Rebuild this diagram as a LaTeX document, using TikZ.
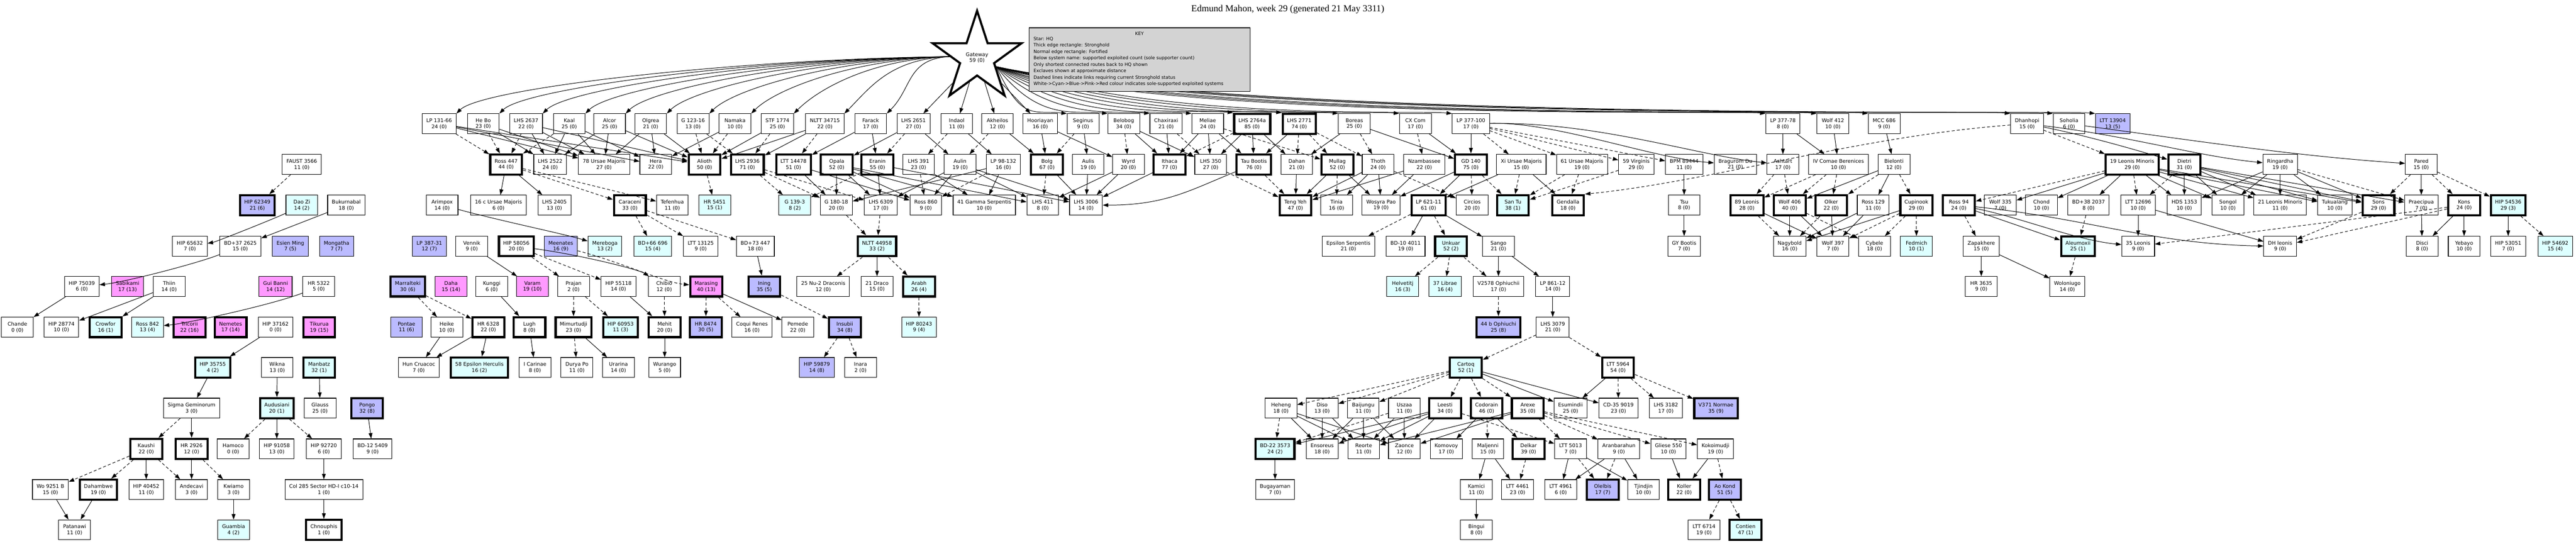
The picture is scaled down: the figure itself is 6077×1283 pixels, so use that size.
\documentclass[tikz,border=0pt]{standalone}
\usepackage{fontspec}
\setmainfont{DejaVu Sans}
\newfontfamily\titlefont{Liberation Serif}
\usetikzlibrary{shapes.geometric,arrows.meta}
\definecolor{cy}{HTML}{DDFFFF}
\definecolor{bl}{HTML}{BBBBFF}
\definecolor{pk}{HTML}{FF99FF}
\definecolor{keygray}{HTML}{D3D3D3}
\tikzset{
 sys/.style={draw, rectangle, fill=white, line width=1.3pt, minimum width=75pt, minimum height=47pt, inner xsep=10pt, align=center, font=\fontsize{12}{14}\selectfont},
 thk/.style={line width=5pt},
 fc/.style={fill=cy}, fb/.style={fill=bl}, fp/.style={fill=pk},
 e/.style={-{Triangle[length=13pt,width=9pt]}, line width=1.2pt},
 d/.style={e, dash pattern=on 7pt off 5pt},
}
\newcommand{\sy}[5][]{\node[sys,#1] (#2) at (#3,#4) {#5};}
\begin{document}
\begin{tikzpicture}[x=1pt,y=-1pt]
\useasboundingbox (0,0) rectangle (6077,1283);
\node[font=\titlefont\fontsize{22}{24}\selectfont] (title) at (3038,22) {Edmund Mahon, week 29 (generated 21 May 3311)};
\node[draw, star, star points=5, star point ratio=2.618, minimum size=210pt, line width=5pt, fill=white, align=center, font=\fontsize{12}{14}\selectfont] (gw) at (2305,136) {Gateway\\59 (0)};
% row 0
\def\r{292}
\sy{lp13166}{1036}{\r}{LP 131-66\\24 (0)}
\sy{hebo}{1140}{\r}{He Bo\\23 (0)}
\sy{lhs2637}{1241}{\r}{LHS 2637\\22 (0)}
\sy{kaal}{1343}{\r}{Kaal\\25 (0)}
\sy{alcor}{1438}{\r}{Alcor\\25 (0)}
\sy{olgrea}{1535}{\r}{Olgrea\\21 (0)}
\sy{g12316}{1635}{\r}{G 123-16\\13 (0)}
\sy{namaka}{1734}{\r}{Namaka\\10 (0)}
\sy{stf1774}{1834}{\r}{STF 1774\\25 (0)}
\sy{nltt34715}{1946}{\r}{NLTT 34715\\22 (0)}
\sy{farack}{2054}{\r}{Farack\\17 (0)}
\sy{lhs2651}{2155}{\r}{LHS 2651\\27 (0)}
\sy{indaol}{2257}{\r}{Indaol\\11 (0)}
\sy{akheilos}{2353}{\r}{Akheilos\\12 (0)}
\sy{hooriayan}{2454}{\r}{Hooriayan\\16 (0)}
\sy{seginus}{2555}{\r}{Seginus\\9 (0)}
\sy{belobog}{2651}{\r}{Belobog\\34 (0)}
\sy{chaxiraxi}{2751}{\r}{Chaxiraxi\\21 (0)}
\sy{meliae}{2849}{\r}{Meliae\\24 (0)}
\sy[thk]{lhs2764a}{2954}{\r}{LHS 2764a\\85 (0)}
\sy[thk]{lhs2771}{3065}{\r}{LHS 2771\\74 (0)}
\sy{boreas}{3195}{\r}{Boreas\\25 (0)}
\sy{cxcom}{3339}{\r}{CX Com\\17 (0)}
\sy{lp377100}{3470}{\r}{LP 377-100\\17 (0)}
\sy{lp37778}{4206}{\r}{LP 377-78\\8 (0)}
\sy{wolf412}{4324}{\r}{Wolf 412\\10 (0)}
\sy{mcc686}{4445}{\r}{MCC 686\\9 (0)}
\sy{dhanhopi}{4782}{\r}{Dhanhopi\\15 (0)}
\sy{soholia}{4881}{\r}{Soholia\\6 (0)}
\sy[fb]{ltt13904}{4984}{\r}{LTT 13904\\13 (5)}
% row 1
\def\r{388}
\sy{faust}{712}{\r}{FAUST 3566\\11 (0)}
\sy[thk]{ross447}{1194}{\r}{Ross 447\\44 (0)}
\sy{lhs2522}{1298}{\r}{LHS 2522\\24 (0)}
\sy{uma78}{1425}{\r}{78 Ursae Majoris\\27 (0)}
\sy{hera}{1547}{\r}{Hera\\22 (0)}
\sy[thk]{alioth}{1662}{\r}{Alioth\\50 (0)}
\sy[thk]{lhs2936}{1763}{\r}{LHS 2936\\71 (0)}
\sy[thk]{ltt14478}{1872}{\r}{LTT 14478\\51 (0)}
\sy[thk]{opala}{1974}{\r}{Opala\\52 (0)}
\sy[thk]{eranin}{2070}{\r}{Eranin\\55 (0)}
\sy{lhs391}{2167}{\r}{LHS 391\\23 (0)}
\sy{aulin}{2265}{\r}{Aulin\\19 (0)}
\sy{lp98}{2367}{\r}{LP 98-132\\16 (0)}
\sy[thk]{bolg}{2470}{\r}{Bolg\\67 (0)}
\sy{aulis}{2567}{\r}{Aulis\\19 (0)}
\sy{wyrd}{2662}{\r}{Wyrd\\20 (0)}
\sy[thk]{ithaca}{2759}{\r}{Ithaca\\77 (0)}
\sy{lhs350}{2856}{\r}{LHS 350\\27 (0)}
\sy[thk]{taubootis}{2958}{\r}{Tau Bootis\\76 (0)}
\sy{dahan}{3059}{\r}{Dahan\\21 (0)}
\sy[thk]{mullag}{3155}{\r}{Mullag\\52 (0)}
\sy{thoth}{3251}{\r}{Thoth\\24 (0)}
\sy{nzamb}{3360}{\r}{Nzambassee\\22 (0)}
\sy[thk]{gd140}{3470}{\r}{GD 140\\75 (0)}
\sy{xiuma}{3589}{\r}{Xi Ursae Majoris\\15 (0)}
\sy{uma61}{3732}{\r}{61 Ursae Majoris\\19 (0)}
\sy{vir59}{3860}{\r}{59 Virginis\\29 (0)}
\sy{bpm}{3973}{\r}{BPM 89444\\11 (0)}
\sy{bragurom}{4094}{\r}{Bragurom Du\\21 (0)}
\sy{ashtart}{4206}{\r}{Ashtart\\17 (0)}
\sy{ivcom}{4337}{\r}{IV Comae Berenices\\10 (0)}
\sy{bielonti}{4468}{\r}{Bielonti\\12 (0)}
\sy[thk]{lmi19}{5030}{\r}{19 Leonis Minoris\\29 (0)}
\sy[thk]{dietri}{5153}{\r}{Dietri\\31 (0)}
\sy{ringardha}{5379}{\r}{Ringardha\\19 (0)}
\sy{pared}{5712}{\r}{Pared\\15 (0)}
% row 2
\def\r{484}
\sy[fb,thk]{hip62349}{607}{\r}{HIP 62349\\21 (6)}
\sy[fc]{daozi}{712}{\r}{Dao Zi\\14 (2)}
\sy{bukur}{817}{\r}{Bukurnabal\\18 (0)}
\sy{arimpox}{1043}{\r}{Arimpox\\14 (0)}
\sy{uma16c}{1176}{\r}{16 c Ursae Majoris\\6 (0)}
\sy{lhs2405}{1308}{\r}{LHS 2405\\13 (0)}
\sy[thk]{caraceni}{1486}{\r}{Caraceni\\33 (0)}
\sy{tefenhua}{1586}{\r}{Tefenhua\\11 (0)}
\sy[fc]{hr5451}{1686}{\r}{HR 5451\\15 (1)}
\sy[fc]{g1393}{1875}{\r}{G 139-3\\8 (2)}
\sy{g18018}{1973}{\r}{G 180-18\\20 (0)}
\sy{lhs6309}{2078}{\r}{LHS 6309\\17 (0)}
\sy{ross860}{2184}{\r}{Ross 860\\9 (0)}
\sy{gam41}{2322}{\r}{41 Gamma Serpentis\\10 (0)}
\sy{lhs411}{2460}{\r}{LHS 411\\8 (0)}
\sy{lhs3006}{2562}{\r}{LHS 3006\\14 (0)}
\sy[thk]{tengyeh}{3056}{\r}{Teng Yeh\\47 (0)}
\sy{tinia}{3153}{\r}{Tinia\\16 (0)}
\sy{wosyra}{3258}{\r}{Wosyra Pao\\19 (0)}
\sy[thk]{lp62111}{3370}{\r}{LP 621-11\\61 (0)}
\sy{circios}{3473}{\r}{Circios\\20 (0)}
\sy[fc,thk]{santu}{3569}{\r}{San Tu\\38 (1)}
\sy[thk]{gendalla}{3699}{\r}{Gendalla\\18 (0)}
\sy{tsu}{3973}{\r}{Tsu\\8 (0)}
\sy[thk]{leo89}{4121}{\r}{89 Leonis\\28 (0)}
\sy[thk]{wolf406}{4222}{\r}{Wolf 406\\40 (0)}
\sy[thk]{olker}{4320}{\r}{Olker\\22 (0)}
\sy{ross129}{4419}{\r}{Ross 129\\11 (0)}
\sy[thk]{cupinook}{4521}{\r}{Cupinook\\29 (0)}
\sy[thk]{ross94}{4621}{\r}{Ross 94\\24 (0)}
\sy{wolf335}{4719}{\r}{Wolf 335\\7 (0)}
\sy{chond}{4816}{\r}{Chond\\10 (0)}
\sy{bd382037}{4927}{\r}{BD+38 2037\\8 (0)}
\sy{ltt12696}{5044}{\r}{LTT 12696\\10 (0)}
\sy{hds1353}{5153}{\r}{HDS 1353\\10 (0)}
\sy{songol}{5256}{\r}{Songol\\10 (0)}
\sy{lmi21}{5379}{\r}{21 Leonis Minoris\\11 (0)}
\sy{tukualang}{5508}{\r}{Tukualang\\10 (0)}
\sy[thk]{sons}{5611}{\r}{Sons\\29 (0)}
\sy{praecipua}{5712}{\r}{Praecipua\\7 (0)}
\sy[thk]{kons}{5813}{\r}{Kons\\24 (0)}
\sy[fc,thk]{hip54536}{5917}{\r}{HIP 54536\\29 (3)}
% row 3
\def\r{581}
\sy{hip65632}{448}{\r}{HIP 65632\\7 (0)}
\sy{bd37}{567}{\r}{BD+37 2625\\15 (0)}
\sy[fb]{esien}{685}{\r}{Esien Ming\\7 (5)}
\sy[fb]{mongatha}{794}{\r}{Mongatha\\7 (7)}
\sy[fb]{lp387}{1013}{\r}{LP 387-31\\12 (7)}
\sy{vennik}{1113}{\r}{Vennik\\9 (0)}
\sy[thk]{hip58056}{1218}{\r}{HIP 58056\\20 (0)}
\sy[fb]{meenates}{1323}{\r}{Meenates\\16 (9)}
\sy[fc]{mereboga}{1427}{\r}{Mereboga\\13 (2)}
\sy[fc]{bd66}{1540}{\r}{BD+66 696\\15 (4)}
\sy{ltt13125}{1653}{\r}{LTT 13125\\9 (0)}
\sy{bd73}{1782}{\r}{BD+73 447\\18 (0)}
\sy[fc,thk]{nltt44958}{2069}{\r}{NLTT 44958\\33 (2)}
\sy{epsser}{3181}{\r}{Epsilon Serpentis\\21 (0)}
\sy{bd10}{3316}{\r}{BD-10 4011\\19 (0)}
\sy[fc,thk]{unkuar}{3423}{\r}{Unkuar\\52 (2)}
\sy{sango}{3535}{\r}{Sango\\21 (0)}
\sy{gybootis}{3973}{\r}{GY Bootis\\7 (0)}
\sy{nagybold}{4222}{\r}{Nagybold\\16 (0)}
\sy{wolf397}{4324}{\r}{Wolf 397\\7 (0)}
\sy{cybele}{4422}{\r}{Cybele\\18 (0)}
\sy[fc]{fedmich}{4521}{\r}{Fedmich\\10 (1)}
\sy{zapakhere}{4674}{\r}{Zapakhere\\15 (0)}
\sy[fc,thk]{aleumoxii}{4902}{\r}{Aleumoxii\\25 (1)}
\sy{leo35}{5044}{\r}{35 Leonis\\9 (0)}
\sy{dhleo}{5379}{\r}{DH leonis\\9 (0)}
\sy{disci}{5714}{\r}{Disci\\8 (0)}
\sy{yebayo}{5813}{\r}{Yebayo\\10 (0)}
\sy{hip53051}{5917}{\r}{HIP 53051\\7 (0)}
\sy[fc]{hip54692}{6028}{\r}{HIP 54692\\15 (4)}
% row 4
\def\r{676}
\sy{hip75039}{193}{\r}{HIP 75039\\6 (0)}
\sy[fp]{sabikami}{301}{\r}{Sabikami\\17 (13)}
\sy{thiin}{399}{\r}{Thiin\\14 (0)}
\sy[fp]{guibanni}{650}{\r}{Gui Banni\\14 (12)}
\sy{hr5322}{752}{\r}{HR 5322\\5 (0)}
\sy[fb,thk]{marralteki}{962}{\r}{Marralteki\\30 (6)}
\sy[fp]{daha}{1064}{\r}{Daha\\15 (14)}
\sy{kunggi}{1160}{\r}{Kunggi\\6 (0)}
\sy[fp]{varam}{1256}{\r}{Varam\\19 (10)}
\sy{prajan}{1353}{\r}{Prajan\\2 (0)}
\sy{hip55118}{1459}{\r}{HIP 55118\\14 (0)}
\sy{chibio}{1567}{\r}{Chibio\\12 (0)}
\sy[fp,thk]{marasing}{1666}{\r}{Marasing\\40 (13)}
\sy[fb,thk]{ining}{1803}{\r}{Ining\\35 (5)}
\sy{nu2dra}{1942}{\r}{25 Nu-2 Draconis\\12 (0)}
\sy{draco21}{2069}{\r}{21 Draco\\15 (0)}
\sy[fc,thk]{arabh}{2168}{\r}{Arabh\\26 (4)}
\sy[fc]{helvetitj}{3309}{\r}{Helvetitj\\16 (3)}
\sy[fc]{librae37}{3409}{\r}{37 Librae\\16 (4)}
\sy{v2578}{3535}{\r}{V2578 Ophiuchii\\17 (0)}
\sy{lp86112}{3663}{\r}{LP 861-12\\14 (0)}
\sy{hr3635}{4674}{\r}{HR 3635\\9 (0)}
\sy{woloniugo}{4877}{\r}{Woloniugo\\14 (0)}
% row 5
\def\r{772}
\sy{chande}{41}{\r}{Chande\\0 (0)}
\sy{hip28774}{145}{\r}{HIP 28774\\10 (0)}
\sy[fc,thk]{crowfor}{249}{\r}{Crowfor\\16 (1)}
\sy[fc]{ross842}{348}{\r}{Ross 842\\13 (4)}
\sy[fp,thk]{tricorii}{447}{\r}{Tricorii\\22 (16)}
\sy[fp,thk]{nemetes}{544}{\r}{Nemetes\\17 (14)}
\sy{hip37162}{650}{\r}{HIP 37162\\0 (0)}
\sy[fp,thk]{tikurua}{753}{\r}{Tikurua\\19 (15)}
\sy[fb]{pontae}{959}{\r}{Pontae\\11 (6)}
\sy{heike}{1054}{\r}{Heike\\10 (0)}
\sy[thk]{hr6328}{1152}{\r}{HR 6328\\22 (0)}
\sy[thk]{lugh}{1249}{\r}{Lugh\\8 (0)}
\sy[thk]{mimurtudji}{1353}{\r}{Mimurtudji\\23 (0)}
\sy[fc,thk]{hip60953}{1464}{\r}{HIP 60953\\11 (3)}
\sy[thk]{mehit}{1568}{\r}{Mehit\\20 (0)}
\sy[fb,thk]{hr8474}{1665}{\r}{HR 8474\\30 (5)}
\sy{coqui}{1774}{\r}{Coqui Renes\\16 (0)}
\sy{pemede}{1882}{\r}{Pemede\\22 (0)}
\sy[fb,thk]{insubii}{1993}{\r}{Insubii\\34 (8)}
\sy[fc]{hip80243}{2168}{\r}{HIP 80243\\9 (4)}
\sy[fb,thk]{ophb44}{3535}{\r}{44 b Ophiuchi\\25 (8)}
\sy{lhs3079}{3663}{\r}{LHS 3079\\21 (0)}
% row 6
\def\r{867}
\sy[fc,thk]{hip35755}{502}{\r}{HIP 35755\\4 (2)}
\sy{wikna}{654}{\r}{Wikna\\13 (0)}
\sy[fc,thk]{manbatz}{753}{\r}{Manbatz\\32 (1)}
\sy{huncru}{988}{\r}{Hun Cruacoc\\7 (0)}
\sy[fc,thk]{eps58her}{1131}{\r}{58 Epsilon Herculis\\16 (2)}
\sy{icarinae}{1262}{\r}{I Carinae\\8 (0)}
\sy{duryapo}{1361}{\r}{Durya Po\\11 (0)}
\sy{urarina}{1459}{\r}{Urarina\\14 (0)}
\sy{wurango}{1568}{\r}{Wurango\\5 (0)}
\sy[fb]{hip59879}{1927}{\r}{HIP 59879\\14 (8)}
\sy{inara}{2030}{\r}{Inara\\2 (0)}
\sy[fc,thk]{cartoq}{3458}{\r}{Cartoq\\52 (1)}
\sy[thk]{ltt5964}{3817}{\r}{LTT 5964\\54 (0)}
% row 7
\def\r{963}
\sy{sigma}{452}{\r}{Sigma Geminorum\\3 (0)}
\sy[fc,thk]{audusiani}{653}{\r}{Audusiani\\20 (1)}
\sy{glauss}{755}{\r}{Glauss\\25 (0)}
\sy[fb,thk]{pongo}{866}{\r}{Pongo\\32 (8)}
\sy{heheng}{3022}{\r}{Heheng\\18 (0)}
\sy{diso}{3119}{\r}{Diso\\13 (0)}
\sy{baijungu}{3216}{\r}{Baijungu\\11 (0)}
\sy{uszaa}{3313}{\r}{Uszaa\\11 (0)}
\sy[thk]{leesti}{3409}{\r}{Leesti\\34 (0)}
\sy[thk]{codorain}{3507}{\r}{Codorain\\46 (0)}
\sy[thk]{arexe}{3604}{\r}{Arexe\\35 (0)}
\sy{esumindii}{3705}{\r}{Esumindii\\25 (0)}
\sy{cd35}{3818}{\r}{CD-35 9019\\23 (0)}
\sy{lhs3182}{3930}{\r}{LHS 3182\\17 (0)}
\sy[fb,thk]{v371}{4048}{\r}{V371 Normae\\35 (9)}
% row 8
\def\r{1059}
\sy[thk]{kaushi}{345}{\r}{Kaushi\\22 (0)}
\sy[thk]{hr2926}{452}{\r}{HR 2926\\12 (0)}
\sy{hamoco}{550}{\r}{Hamoco\\0 (0)}
\sy{hip91058}{653}{\r}{HIP 91058\\13 (0)}
\sy{hip92720}{764}{\r}{HIP 92720\\6 (0)}
\sy{bd12}{879}{\r}{BD-12 5409\\9 (0)}
\sy[fc,thk]{bd22}{3008}{\r}{BD-22 3573\\24 (2)}
\sy{ensoreus}{3119}{\r}{Ensoreus\\18 (0)}
\sy{reorte}{3217}{\r}{Reorte\\11 (0)}
\sy{zaonce}{3313}{\r}{Zaonce\\12 (0)}
\sy{komovoy}{3412}{\r}{Komovoy\\17 (0)}
\sy{maljenni}{3510}{\r}{Maljenni\\15 (0)}
\sy[thk]{delkar}{3606}{\r}{Delkar\\39 (0)}
\sy{ltt5013}{3705}{\r}{LTT 5013\\7 (0)}
\sy{aranbarahun}{3819}{\r}{Aranbarahun\\9 (0)}
\sy{gliese550}{3936}{\r}{Gliese 550\\10 (0)}
\sy{kokoimudji}{4047}{\r}{Kokoimudji\\19 (0)}
% row 9
\def\r{1155}
\sy{wo9251}{119}{\r}{Wo 9251 B\\15 (0)}
\sy[thk]{dahambwe}{232}{\r}{Dahambwe\\19 (0)}
\sy{hip40452}{345}{\r}{HIP 40452\\11 (0)}
\sy{andecavi}{452}{\r}{Andecavi\\3 (0)}
\sy{kwiamo}{551}{\r}{Kwiamo\\3 (0)}
\sy{col285}{764}{\r}{Col 285 Sector HD-I c10-14\\1 (0)}
\sy{bugayaman}{3008}{\r}{Bugayaman\\7 (0)}
\sy{kamici}{3483}{\r}{Kamici\\11 (0)}
\sy{ltt4461}{3580}{\r}{LTT 4461\\23 (0)}
\sy{ltt4961}{3682}{\r}{LTT 4961\\6 (0)}
\sy[fb,thk]{olelbis}{3781}{\r}{Olelbis\\17 (7)}
\sy{tjindjin}{3877}{\r}{Tjindjin\\10 (0)}
\sy[thk]{koller}{3973}{\r}{Koller\\22 (0)}
\sy[fb,thk]{aokond}{4069}{\r}{Ao Kond\\51 (5)}
% row 10
\def\r{1250}
\sy{patanawi}{176}{\r}{Patanawi\\11 (0)}
\sy[fc]{guambia}{551}{\r}{Guambia\\4 (2)}
\sy[thk]{chnouphis}{764}{\r}{Chnouphis\\1 (0)}
\sy{bingui}{3483}{\r}{Bingui\\8 (0)}
\sy{ltt6714}{4020}{\r}{LTT 6714\\19 (0)}
\sy[fc,thk]{contien}{4118}{\r}{Contien\\47 (1)}
% ---------- edges from Gateway
\foreach \n/\c in {lp13166/500, hebo/460, lhs2637/420, kaal/380, alcor/340, olgrea/300, g12316/260, namaka/220, stf1774/180, nltt34715/140, farack/100}
  \draw[e] (gw.178) .. controls +(-\c,5) and +(60,-60) .. (\n.north east);
\foreach \n in {lhs2651, indaol, akheilos, hooriayan}
  \draw[e] (gw) -- (\n);
\foreach \n/\c in {seginus/60, belobog/100, chaxiraxi/140, meliae/180, lhs2764a/220, lhs2771/260, boreas/300, cxcom/340, lp377100/380, lp37778/420, wolf412/460, mcc686/500, dhanhopi/540, soholia/580, ltt13904/620}
  \draw[e] (gw.-25) .. controls +(\c,130) and +(-80,-8) .. (\n.north west);
% ---------- left cluster
\draw[d] (faust) -- (hip62349);
\draw[e] (daozi) .. controls +(-60,30) and +(60,-10) .. (hip65632);
\draw[e] (bukur) -- (bd37);
\draw[e] (bd37) .. controls +(-100,40) and +(100,-10) .. (hip75039);
\draw[e] (hip75039) -- (chande);
\draw[e] (thiin) -- (hip28774);
\draw[e] (thiin) -- (crowfor);
\draw[e] (hr5322) .. controls +(-100,40) and +(100,-10) .. (ross842);
\draw[e] (hip37162) -- (hip35755);
\draw[e] (hip35755) -- (sigma);
\draw[e] (wikna) -- (audusiani);
\draw[e] (manbatz) -- (glauss);
\draw[e] (pongo) -- (bd12);
\draw[d] (sigma) -- (kaushi);
\draw[e] (sigma) -- (hr2926);
\draw[d] (audusiani) -- (hamoco);
\draw[e] (audusiani) -- (hip91058);
\draw[d] (audusiani) -- (hip92720);
\draw[e] (hip92720) -- (col285);
\draw[e] (col285) -- (chnouphis);
\draw[d] (kaushi) -- (wo9251);
\draw[d] (kaushi) -- (dahambwe);
\draw[e] (kaushi) -- (hip40452);
\draw[d] (kaushi) -- (andecavi);
\draw[e] (hr2926) -- (andecavi);
\draw[d] (hr2926) -- (kwiamo);
\draw[e] (kwiamo) -- (guambia);
\draw[e] (wo9251) -- (patanawi);
\draw[e] (dahambwe) -- (patanawi);
% ---------- row0 -> row1 left
\foreach \a/\b in {lp13166/uma78, lp13166/hera, lp13166/alioth, hebo/lhs2522, hebo/uma78, lhs2637/lhs2522, lhs2637/uma78, lhs2637/alioth, kaal/lhs2522, kaal/uma78, kaal/hera, alcor/uma78, alcor/lhs2522, alcor/alioth, olgrea/hera, olgrea/uma78, olgrea/alioth, namaka/hera, stf1774/alioth, nltt34715/lhs2936, nltt34715/alioth, farack/ltt14478, lhs2651/opala, lhs2651/aulin, indaol/lp98, akheilos/bolg, hooriayan/bolg, seginus/aulis, belobog/ithaca, belobog/lhs350, chaxiraxi/ithaca, meliae/lhs350, meliae/taubootis, meliae/ithaca, lhs2764a/taubootis, lhs2764a/lhs350, lhs2764a/dahan, lhs2771/taubootis, boreas/gd140, boreas/dahan, cxcom/gd140, lp377100/gd140, farack/eranin, hooriayan/wyrd}
  \draw[e] (\a) -- (\b);
\foreach \a/\b in {lp13166/ross447, hebo/ross447, lhs2637/ross447, kaal/ross447, g12316/alioth, g12316/lhs2936, namaka/alioth, stf1774/lhs2936, nltt34715/ltt14478, lhs2651/eranin, indaol/lhs391, akheilos/aulin, seginus/bolg, belobog/wyrd, chaxiraxi/lhs350, lhs2771/dahan, lhs2771/mullag, lhs2764a/ithaca, boreas/thoth, cxcom/nzamb, lp377100/xiuma, lp377100/uma61, lp377100/vir59, lp377100/bpm, meliae/mullag, lhs2771/thoth}
  \draw[d] (\a) -- (\b);
% ---------- row1 -> row2 left
\draw[e] (ross447) -- (uma16c);
\draw[e] (ross447) -- (lhs2405);
\draw[d] (ross447) -- (caraceni);
\draw[d] (ross447) -- (tefenhua);
\draw[d] (alioth) -- (hr5451);
\foreach \a/\b in {opala/g18018, ltt14478/g18018, ltt14478/ross860, opala/lhs6309, opala/ross860, opala/gam41, opala/lhs411, eranin/lhs6309, eranin/lhs3006, aulin/lhs6309, aulin/ross860, aulin/lhs411, aulin/lhs3006, lp98/g18018, lp98/gam41, bolg/lhs3006, aulis/lhs3006, wyrd/lhs3006, wyrd/lhs411, lhs391/gam41}
  \draw[e] (\a) -- (\b);
\foreach \a/\b in {lhs2936/g1393, lhs2936/g18018, lhs2936/lhs6309, eranin/g1393, lhs391/ross860, bolg/lhs411, lp98/ross860}
  \draw[d] (\a) -- (\b);
\draw[e] (ithaca) -- (lhs3006);
\draw[e] (taubootis) .. controls +(-150,60) and +(150,0) .. (lhs3006.east);
\draw[d] (caraceni) -- (bd66);
\draw[d] (caraceni) -- (ltt13125);
\draw[d] (caraceni) -- (bd73);
\draw[e] (arimpox) .. controls +(150,40) and +(-100,-30) .. (mereboga);
\draw[e] (bd73) -- (ining);
\draw[d] (g18018) -- (nltt44958);
\draw[d] (lhs6309) -- (nltt44958);
\draw[d] (nltt44958) -- (nu2dra);
\draw[e] (nltt44958) -- (draco21);
\draw[d] (nltt44958) -- (arabh);
\draw[d] (arabh) -- (hip80243);
\draw[e] (vennik) -- (varam);
\draw[d] (hip58056) -- (prajan);
\draw[d] (hip58056) -- (hip55118);
\draw[e] (hip58056) .. controls +(150,20) and +(-60,-40) .. (chibio);
\draw[d] (meenates) .. controls +(150,40) and +(-100,-10) .. (marasing);
\draw[d] (marralteki) -- (heike);
\draw[d] (marralteki) -- (hr6328);
\draw[e] (kunggi) -- (lugh);
\draw[d] (prajan) -- (mimurtudji);
\draw[d] (prajan) -- (hip60953);
\draw[e] (hip55118) -- (mehit);
\draw[d] (chibio) -- (mehit);
\draw[d] (marasing) -- (hr8474);
\draw[d] (marasing) -- (coqui);
\draw[e] (marasing) -- (pemede);
\draw[d] (ining) -- (insubii);
\draw[e] (heike) -- (huncru);
\draw[e] (hr6328) -- (huncru);
\draw[e] (hr6328) -- (eps58her);
\draw[e] (lugh) -- (icarinae);
\draw[d] (mimurtudji) -- (duryapo);
\draw[e] (mimurtudji) -- (urarina);
\draw[e] (mehit) -- (wurango);
\draw[d] (insubii) -- (hip59879);
\draw[d] (insubii) -- (inara);
% ---------- middle-right cluster
\foreach \a/\b in {dahan/tengyeh, mullag/tengyeh, mullag/wosyra, thoth/wosyra, thoth/tinia, thoth/tengyeh, nzamb/wosyra, nzamb/tengyeh, gd140/lp62111, gd140/wosyra, xiuma/gendalla, xiuma/lp62111, bpm/tsu, tsu/gybootis}
  \draw[e] (\a) -- (\b);
\foreach \a/\b in {mullag/tinia, thoth/circios, gd140/circios, gd140/santu, xiuma/santu, uma61/gendalla, uma61/santu, vir59/santu, taubootis/tengyeh, lhs350/tengyeh}
  \draw[d] (\a) -- (\b);
\draw[d] (lp62111) -- (epsser);
\draw[e] (lp62111) -- (bd10);
\draw[d] (lp62111) -- (unkuar);
\draw[e] (lp62111) -- (sango);
\draw[d] (unkuar) -- (helvetitj);
\draw[d] (unkuar) -- (librae37);
\draw[d] (unkuar) -- (v2578);
\draw[e] (sango) -- (v2578);
\draw[e] (sango) -- (lp86112);
\draw[d] (v2578) -- (ophb44);
\draw[e] (lp86112) -- (lhs3079);
\draw[d] (lhs3079) -- (cartoq);
\draw[d] (lhs3079) -- (ltt5964);
\foreach \b in {heheng, diso, baijungu, leesti, codorain, arexe}
  \draw[d] (cartoq) -- (\b);
\draw[e] (cartoq) -- (esumindii);
\draw[e] (cartoq) -- (cd35);
\draw[e] (ltt5964) -- (esumindii);
\draw[d] (ltt5964) -- (cd35);
\draw[d] (ltt5964) -- (lhs3182);
\draw[d] (ltt5964) -- (v371);
\foreach \a/\b in {heheng/ensoreus, heheng/reorte, heheng/zaonce, diso/ensoreus, diso/reorte, baijungu/ensoreus, baijungu/reorte, baijungu/zaonce, uszaa/zaonce, uszaa/reorte, leesti/bd22, leesti/ensoreus, leesti/reorte, leesti/zaonce, codorain/komovoy, codorain/delkar, arexe/zaonce, arexe/reorte, maljenni/kamici, maljenni/ltt4461, ltt5013/ltt4961, ltt5013/tjindjin, aranbarahun/ltt4961, aranbarahun/tjindjin, gliese550/koller, kamici/bingui, bd22/bugayaman, kokoimudji/koller}
  \draw[e] (\a) -- (\b);
\foreach \a/\b in {heheng/bd22, uszaa/bd22, leesti/ltt5013, codorain/maljenni, arexe/ltt5013, arexe/aranbarahun, arexe/gliese550, arexe/kokoimudji, delkar/ltt4461, ltt5013/olelbis, aranbarahun/olelbis, kokoimudji/aokond, aokond/ltt6714, aokond/contien}
  \draw[d] (\a) -- (\b);
% ---------- right cluster
\draw[e] (lp377100) .. controls +(200,-5) and +(-200,-15) .. (bragurom);
\draw[e] (lp377100) .. controls +(300,-5) and +(-200,-20) .. (ashtart);
\draw[e] (lp37778) -- (ashtart);
\draw[e] (lp37778) -- (ivcom);
\draw[e] (wolf412) -- (ivcom);
\draw[e] (mcc686) -- (bielonti);
\draw[d] (dhanhopi) -- (lmi19);
\draw[d] (dhanhopi) .. controls +(-400,30) and +(300,-30) .. (gendalla.north east);
\draw[e] (dhanhopi) .. controls +(150,30) and +(-100,-30) .. (dietri);
\draw[e] (dhanhopi) .. controls +(250,30) and +(-200,-20) .. (ringardha);
\draw[e] (soholia) .. controls +(300,40) and +(-300,-20) .. (pared);
\foreach \a/\b in {ashtart/leo89, ashtart/wolf406, ivcom/wolf406, ivcom/olker, ivcom/leo89, bielonti/olker, bielonti/cupinook}
  \draw[d] (\a) -- (\b);
\draw[e] (bielonti) -- (wolf406);
\draw[e] (bielonti) -- (ross129);
\foreach \a/\b in {leo89/wolf397, wolf406/nagybold, wolf406/wolf397, olker/wolf397, ross129/nagybold, ross129/wolf397, cupinook/nagybold, ross94/aleumoxii, lmi19/wolf335, lmi19/chond, lmi19/bd382037, zapakhere/hr3635, zapakhere/woloniugo}
  \draw[e] (\a) -- (\b);
\foreach \a/\b in {leo89/nagybold, wolf406/cybele, olker/nagybold, cupinook/cybele, cupinook/fedmich, cupinook/wolf397, ross94/zapakhere, lmi19/ross94, bd382037/aleumoxii, aleumoxii/woloniugo}
  \draw[d] (\a) -- (\b);
\draw[e] (ross94) .. controls +(150,30) and +(-150,-15) .. (leo35);
\draw[e] (ross94) .. controls +(300,30) and +(-300,-5) .. (dhleo);
\foreach \a/\b in {lmi19/hds1353, lmi19/songol, lmi19/lmi21, lmi19/tukualang, lmi19/sons, dietri/hds1353, dietri/songol, dietri/lmi21, dietri/tukualang, dietri/sons, dietri/praecipua, ringardha/hds1353, ringardha/songol, ringardha/lmi21, ringardha/tukualang, ringardha/sons, pared/praecipua, ltt12696/leo35, ltt12696/dhleo, kons/disci, kons/yebayo, praecipua/disci, hip54536/hip53051}
  \draw[e] (\a) -- (\b);
\foreach \a/\b in {lmi19/ltt12696, dietri/ltt12696, ringardha/praecipua, pared/sons, pared/kons, pared/hip54536, sons/dhleo, kons/dhleo, kons/leo35, hip54536/hip54692}
  \draw[d] (\a) -- (\b);
% ---------- key on top
\node[draw, fill=keygray, line width=1.3pt, minimum width=522pt, minimum height=150pt, anchor=north west] (key) at (2427,65) {};
\node[font=\fontsize{10.7}{14}\selectfont] (keyt) at (2688,79) {KEY};
\node[anchor=north west, align=left, inner sep=0pt, font=\fontsize{10.7}{15.2}\selectfont] (keyl) at (2438,87) {Star: HQ\\Thick edge rectangle: Stronghold\\Normal edge rectangle: Fortified\\Below system name: supported exploited count (sole supporter count)\\Only shortest connected routes back to HQ shown\\Exclaves shown at approximate distance\\Dashed lines indicate links requiring current Stronghold status\\White->Cyan->Blue->Pink->Red colour indicates sole-supported exploited systems};
\end{tikzpicture}
\end{document}
